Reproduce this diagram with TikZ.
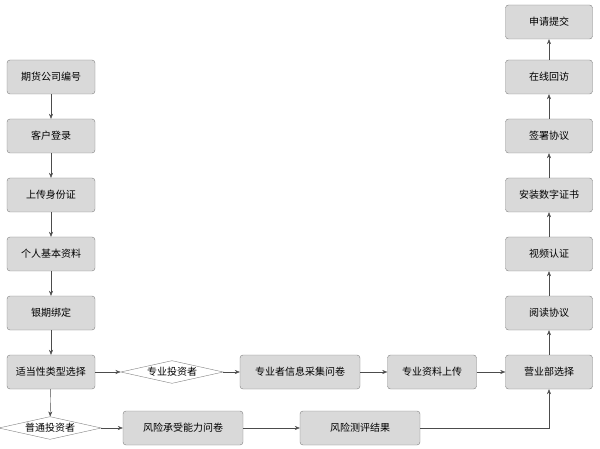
\documentclass[tikz,border=0pt]{standalone}
\usepackage{fontspec}
\setmainfont{Noto Sans CJK SC}
\usetikzlibrary{shapes.geometric,arrows.meta}
\begin{document}
\begin{tikzpicture}[x=1pt,y=-1pt,
 box/.style={draw=black!50,fill=black!15,rounded corners=3pt,minimum height=34pt,font=\fontsize{10}{12}\selectfont,inner sep=2pt},
 dia/.style={draw=black!50,fill=white,diamond,aspect=4.5,inner sep=1pt,font=\fontsize{10}{12}\selectfont},
 ar/.style={draw=black!70,-{Stealth[length=5pt,width=4pt]}}]
\useasboundingbox (0,0) rectangle (600,449);
\node[box,minimum width=88pt] (a1) at (51,77) {期货公司编号};
\node[box,minimum width=88pt] (a2) at (51,136) {客户登录};
\node[box,minimum width=88pt] (a3) at (51,195) {上传身份证};
\node[box,minimum width=88pt] (a4) at (51,254) {个人基本资料};
\node[box,minimum width=88pt] (a5) at (51,313) {银期绑定};
\node[box,minimum width=88pt] (a6) at (51,372) {适当性类型选择};
\node[dia] (d1) at (50,428) {普通投资者};
\node[dia] (d2) at (172,372) {专业投资者};
\node[box,minimum width=120pt] (p1) at (300,372) {专业者信息采集问卷};
\node[box,minimum width=89pt] (p2) at (432,372) {专业资料上传};
\node[box,minimum width=120pt] (q1) at (183,428) {风险承受能力问卷};
\node[box,minimum width=120pt] (q2) at (360,428) {风险测评结果};
\node[box,minimum width=87pt] (b1) at (549,372) {营业部选择};
\node[box,minimum width=87pt] (b2) at (549,313) {阅读协议};
\node[box,minimum width=87pt] (b3) at (549,254) {视频认证};
\node[box,minimum width=87pt] (b4) at (549,195) {安装数字证书};
\node[box,minimum width=87pt] (b5) at (549,136) {签署协议};
\node[box,minimum width=87pt] (b6) at (549,77) {在线回访};
\node[box,minimum width=87pt] (b7) at (549,22) {申请提交};
\foreach \u/\v in {a1/a2,a2/a3,a3/a4,a4/a5,a5/a6,a6/d1,a6/d2,d2/p1,p1/p2,p2/b1,d1/q1,q1/q2,b1/b2,b2/b3,b3/b4,b4/b5,b5/b6,b6/b7}
  \draw[ar] (\u) -- (\v);
\draw[ar] (q2.east) -| (b1.south);
\end{tikzpicture}
\end{document}
